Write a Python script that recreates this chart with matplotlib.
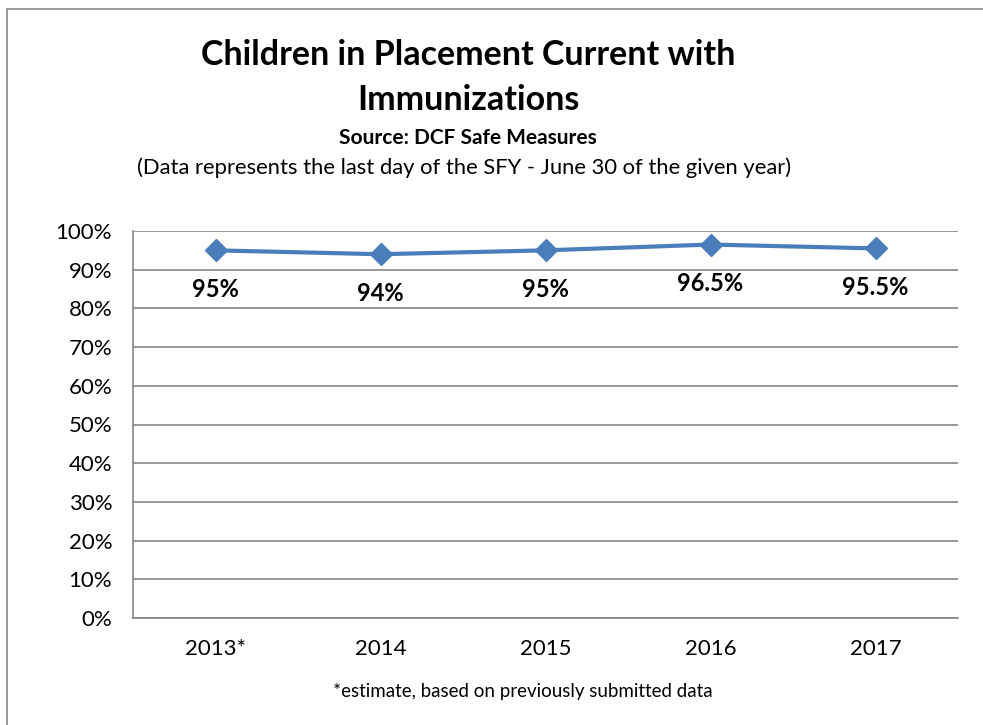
import matplotlib.pyplot as plt
from matplotlib.patches import Rectangle
from matplotlib.ticker import FuncFormatter

years = ['2013*', '2014', '2015', '2016', '2017']
pct = [95, 94, 95, 96.5, 95.5]
labels = ['95%', '94%', '95%', '96.5%', '95.5%']

plt.rcParams['font.family'] = ['Lato', 'DejaVu Sans']

fig = plt.figure(figsize=(9.83, 7.25), dpi=100)
W, H = 983, 725

# outer chart border
fig.patches.append(Rectangle((7 / W, -0.01), 1.0, 1 - 9 / H + 0.01, transform=fig.transFigure,
                             fill=False, edgecolor='#868686', linewidth=1.2))

ax = fig.add_axes([133 / W, 1 - 618 / H, (958 - 133) / W, (618 - 231) / H])

x = range(len(years))
ax.plot(x, pct, color='#4A7EBB', linewidth=3, marker='D', markersize=11, zorder=3)

for i, (v, t) in enumerate(zip(pct, labels)):
    ax.annotate(t, (i, v), xytext=(0, -28), textcoords='offset points',
                ha='center', va='center', fontsize=17, fontweight='bold')

ax.set_xlim(-0.5, len(years) - 0.5)
ax.set_ylim(0, 100)
ax.set_yticks(range(0, 101, 10))
ax.yaxis.set_major_formatter(FuncFormatter(lambda v, p: f'{v:.0f}%'))
ax.set_xticks(list(x))
ax.set_xticklabels(years)
ax.tick_params(axis='both', length=0, labelsize=16)
ax.tick_params(axis='x', pad=15)
ax.tick_params(axis='y', pad=15)
ax.grid(axis='y', color='#868686', linewidth=1.2)
ax.set_axisbelow(True)
for s in ['top', 'right']:
    ax.spines[s].set_visible(False)
for s in ['left', 'bottom']:
    ax.spines[s].set_color('#868686')
    ax.spines[s].set_linewidth(1.2)

fig.text(468 / W, 1 - 55 / H, 'Children in Placement Current with', ha='center', va='center',
         fontsize=24.5, fontweight='bold')
fig.text(468 / W, 1 - 100 / H, 'Immunizations', ha='center', va='center',
         fontsize=24.5, fontweight='bold')
fig.text(468 / W, 1 - 138 / H, 'Source: DCF Safe Measures', ha='center', va='center',
         fontsize=15, fontweight='bold')
fig.text(464 / W, 1 - 168 / H, '(Data represents the last day of the SFY - June 30 of the given year)',
         ha='center', va='center', fontsize=15.8)
fig.text(523 / W, 1 - 691 / H, '*estimate, based on previously submitted data', ha='center',
         va='center', fontsize=13.5)

plt.savefig('out.png', dpi=100)
